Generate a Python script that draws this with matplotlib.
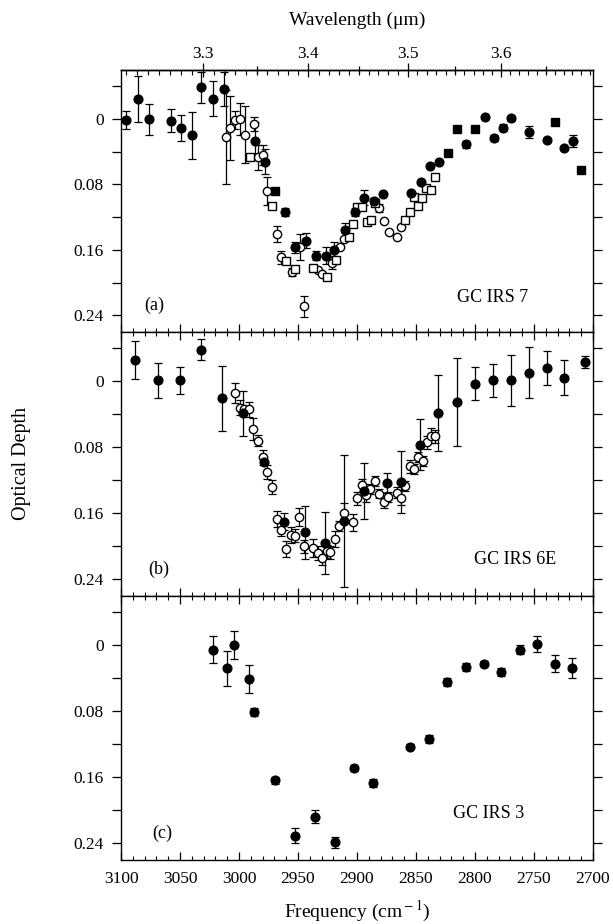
import matplotlib
matplotlib.use("Agg")
import matplotlib.pyplot as plt
import numpy as np
from matplotlib.ticker import MultipleLocator, FixedLocator, FuncFormatter

plt.rcParams["font.family"] = ["Liberation Serif", "DejaVu Serif"]
plt.rcParams["mathtext.fontset"] = "stix"

# ---- panel (a) GC IRS 7 ----
a_fill_freq = [3096, 3086, 3076.5, 3058, 3049, 3040, 3032, 3022, 3013, 2986.4, 2978,
               2961, 2952.7, 2943.3, 2934.6, 2926.4, 2919.3, 2910.3, 2902.1, 2894,
               2885.8, 2877.8, 2854.1, 2846, 2838.4, 2830.4, 2807.3, 2791.8, 2784.2,
               2776.6, 2769.2, 2754.2, 2739.3, 2724.6, 2717]
a_fill_tau = [0.001, -0.025, 0.000, 0.002, 0.011, 0.020, -0.039, -0.025, -0.037, 0.027, 0.052,
              0.114, 0.157, 0.149, 0.167, 0.167, 0.160, 0.136, 0.114, 0.096,
              0.100, 0.092, 0.090, 0.077, 0.057, 0.053, 0.031, -0.002, 0.023,
              0.0105, -0.001, 0.016, 0.026, 0.035, 0.027]
a_fill_err = [0.011, 0.028, 0.019, 0.014, 0.016, 0.029, 0.019, 0.021, 0.021, 0.023, 0.015,
              0.005, 0.007, 0.009, 0.006, 0.010, 0.009, 0.009, 0.005, 0.009,
              0.004, 0, 0, 0, 0, 0, 0.004, 0, 0.004,
              0.004, 0.003, 0.007, 0, 0, 0.007]
a_fsq_freq = [2969.5, 2822.8, 2814.9, 2799.7, 2731.9, 2709.9]
a_fsq_tau = [0.088, 0.041, 0.0126, 0.0126, 0.003, 0.062]
a_open_freq = [3011.1, 3007.7, 3003.1, 2999.5, 2995.3, 2987.3, 2983.8, 2979.5, 2976.2,
               2968, 2964, 2955.5, 2948.4, 2944.7, 2932.9, 2929.5, 2921.6, 2914.2,
               2911.2, 2881.2, 2877.3, 2873.3, 2866, 2862.3]
a_open_tau = [0.022, 0.0105, 0.001, 0.000, 0.019, 0.006, 0.047, 0.044, 0.088,
              0.141, 0.169, 0.187, 0.157, 0.229, 0.185, 0.189, 0.176, 0.157,
              0.147, 0.109, 0.125, 0.138, 0.144, 0.132]
a_open_err = [0.058, 0.039, 0.011, 0.020, 0.035, 0.009, 0.015, 0.012, 0.017,
              0.010, 0.008, 0.005, 0.016, 0.013, 0, 0, 0.008, 0,
              0, 0.005, 0, 0, 0, 0]
a_osq_freq = [2990.4, 2971.8, 2960, 2952.4, 2937.4, 2925.8, 2917.9, 2906.6, 2903.2,
              2899.6, 2895.4, 2891.9, 2888.3, 2884.9, 2859, 2855.3, 2851.9, 2847.9,
              2844.6, 2841.2, 2837.5, 2833.5]
a_osq_tau = [0.047, 0.106, 0.174, 0.184, 0.182, 0.193, 0.172, 0.144, 0.129,
             0.108, 0.107, 0.126, 0.124, 0.103, 0.124, 0.114, 0.095, 0.106,
             0.097, 0.084, 0.087, 0.071]

# ---- panel (b) GC IRS 6E ----
b_fill_freq = [3088, 3068.7, 3050.3, 3032.5, 3014.2, 2996.7, 2978.9, 2961.8, 2944.5,
               2927.3, 2911, 2894.4, 2874.2, 2862.4, 2846.5, 2831, 2815.4, 2799.8,
               2784.5, 2769.6, 2754.3, 2739.3, 2724.6, 2706.5]
b_fill_tau = [-0.026, -0.001, -0.001, -0.038, 0.021, 0.039, 0.098, 0.170, 0.183,
              0.196, 0.169, 0.133, 0.123, 0.122, 0.077, 0.039, 0.025, 0.003,
              -0.001, -0.001, -0.010, -0.016, -0.004, -0.023]
b_fill_err = [0.023, 0.021, 0.016, 0.013, 0.039, 0.027, 0, 0.010, 0.032,
              0.038, 0.080, 0.034, 0.012, 0.038, 0.031, 0.046, 0.053, 0.020,
              0.020, 0.031, 0.031, 0.021, 0.021, 0.007]
b_open_freq = [3003.8, 2999.5, 2995.9, 2991.9, 2988, 2984, 2980, 2976.1, 2971.9,
               2968.2, 2964.3, 2960.3, 2956.3, 2952.7, 2949, 2945, 2937.7, 2933.2,
               2929.8, 2925.6, 2922.5, 2918.6, 2915.2, 2911.1, 2903.3, 2899.9, 2895.5,
               2892, 2888.7, 2885, 2881, 2877, 2873.4, 2866, 2862.4, 2859.2,
               2855, 2851.3, 2848.2, 2844.5, 2841.1, 2837.2, 2833.5]
b_open_tau = [0.014, 0.032, 0.034, 0.034, 0.058, 0.072, 0.092, 0.110, 0.128,
              0.167, 0.180, 0.203, 0.186, 0.187, 0.164, 0.200, 0.202, 0.208,
              0.214, 0.206, 0.207, 0.191, 0.175, 0.160, 0.171, 0.142, 0.126,
              0.138, 0.130, 0.121, 0.136, 0.146, 0.140, 0.135, 0.141, 0.127,
              0.103, 0.106, 0.092, 0.097, 0.074, 0.066, 0.067]
b_open_err = [0.012, 0.009, 0, 0.009, 0.013, 0.007, 0.009, 0.008, 0.008,
              0.010, 0.008, 0.010, 0.010, 0.008, 0.011, 0.008, 0.011, 0.008,
              0.008, 0.008, 0.008, 0.010, 0.006, 0.012, 0.010, 0.008, 0.008,
              0.008, 0.006, 0.006, 0.006, 0.007, 0.006, 0.007, 0.009, 0.006,
              0.008, 0.006, 0.006, 0.006, 0.008, 0.009, 0.008]

# ---- panel (c) GC IRS 3 ----
c_fill_freq = [3022.4, 3010, 3004.6, 2991.7, 2987.1, 2969.7, 2952.4, 2935.5, 2918.6,
               2902.2, 2886.4, 2854.9, 2839, 2823.6, 2807.7, 2792.5, 2777.6, 2762,
               2747.1, 2732.4, 2717.5]
c_fill_tau = [0.005, 0.028, 0.000, 0.041, 0.081, 0.164, 0.231, 0.208, 0.239,
              0.149, 0.167, 0.123, 0.114, 0.044, 0.026, 0.022, 0.032, 0.005,
              -0.002, 0.022, 0.027]
c_fill_err = [0.0165, 0.021, 0.017, 0.017, 0.005, 0.004, 0.009, 0.008, 0.0065,
              0.004, 0.005, 0.003, 0.005, 0.005, 0.005, 0.003, 0.005, 0.005,
              0.0095, 0.010, 0.012]

panel_names = ["GC IRS 7", "GC IRS 6E", "GC IRS 3"]
panel_tags = ["(a)", "(b)", "(c)"]
wl_major = [3.3, 3.4, 3.5, 3.6]
wl_mid = [3.35, 3.45, 3.55, 3.65]
wl_minor = np.round(np.arange(3.23, 3.71, 0.01), 2)

EB = dict(fmt="none", ecolor="black", elinewidth=0.9, capsize=2.8, capthick=0.9, zorder=2)


def errbars(ax, f, t, e):
    f, t, e = np.asarray(f), np.asarray(t), np.asarray(e)
    m = e > 0
    ax.errorbar(f[m], t[m], yerr=e[m], **EB)


def filled(ax, f, t, e=None):
    if e is not None:
        errbars(ax, f, t, e)
    ax.plot(f, t, "o", ms=6.3, color="black", zorder=4)


def opened(ax, f, t, e=None, marker="o", ms=6.0):
    if e is not None:
        errbars(ax, f, t, e)
    ax.plot(f, t, marker, ms=ms, mfc="white", mec="black", mew=1.0, zorder=3)


def tau_fmt(v, _):
    return "0" if abs(v) < 1e-9 else f"{v:.2f}"


fig = plt.figure(figsize=(6.13, 9.24), dpi=100)
left, width = 0.1974, 0.770
edges = [0.9242, 0.6412, 0.355, 0.0698]
axes = []
for i in range(3):
    ax = fig.add_axes([left, edges[i + 1], width, edges[i] - edges[i + 1]])
    axes.append(ax)

filled(axes[0], a_fill_freq, a_fill_tau, a_fill_err)
axes[0].plot(a_fsq_freq, a_fsq_tau, "s", ms=5.3, color="black", zorder=4)
opened(axes[0], a_open_freq, a_open_tau, a_open_err)
opened(axes[0], a_osq_freq, a_osq_tau, None, marker="s", ms=5.3)

filled(axes[1], b_fill_freq, b_fill_tau, b_fill_err)
opened(axes[1], b_open_freq, b_open_tau, b_open_err)

filled(axes[2], c_fill_freq, c_fill_tau, c_fill_err)

for i, ax in enumerate(axes):
    ax.set_xlim(3100, 2700)
    ax.set_ylim(0.26, -0.06)
    for s in ax.spines.values():
        s.set_linewidth(1.0)
    ax.xaxis.set_major_locator(MultipleLocator(50))
    ax.xaxis.set_minor_locator(MultipleLocator(10))
    ax.yaxis.set_major_locator(MultipleLocator(0.08))
    ax.yaxis.set_minor_locator(MultipleLocator(0.04))
    ax.yaxis.set_major_formatter(FuncFormatter(tau_fmt))
    ax.tick_params(axis="x", which="both", direction="in", top=(i > 0), bottom=True,
                   labelbottom=(i == 2), labelsize=12.5, pad=8)
    ax.tick_params(axis="x", which="major", length=6, width=0.9)
    ax.tick_params(axis="x", which="minor", length=3, width=0.8)
    ax.tick_params(axis="y", which="both", direction="out", left=True, right=True,
                   length=6.5, width=0.9, labelsize=12.5, pad=6)
    ax.text(0.05 + 0.008 * i, 0.10, panel_tags[i], transform=ax.transAxes, fontsize=13,
            ha="left", va="center")

axes[0].text(0.712, 0.131, panel_names[0], transform=axes[0].transAxes, fontsize=13, va="center")
axes[1].text(0.747, 0.139, panel_names[1], transform=axes[1].transAxes, fontsize=13, va="center")
axes[2].text(0.704, 0.173, panel_names[2], transform=axes[2].transAxes, fontsize=13, va="center")

conv = (lambda x: 1e4 / np.asarray(x, dtype=float), lambda x: 1e4 / np.asarray(x, dtype=float))
top = axes[0].secondary_xaxis("top", functions=conv)
top.xaxis.set_major_locator(FixedLocator(wl_major))
top.xaxis.set_minor_locator(FixedLocator(wl_minor))
top.xaxis.set_major_formatter(FuncFormatter(lambda v, _: f"{v:.1f}"))
top.tick_params(which="major", direction="inout", length=10, width=0.9, labelsize=12.5, pad=1)
top.tick_params(which="minor", direction="in", length=3.5, width=0.8)
top.spines["top"].set_linewidth(1.0)

mid = axes[0].secondary_xaxis("top", functions=conv)
mid.xaxis.set_major_locator(FixedLocator(wl_mid))
mid.xaxis.set_minor_locator(FixedLocator([]))
mid.tick_params(which="major", direction="inout", length=6, width=0.9, labeltop=False)

xc = left + width / 2
fig.text(xc, 1 - 20 / 924, "Wavelength (\u03bcm)", fontsize=14, ha="center", va="center")
fig.text(xc, 1 - 911 / 924, r"Frequency (cm$^{\rm -1}$)", fontsize=14, ha="center", va="center")
fig.text(22 / 613, 1 - 463 / 924, "Optical Depth", rotation=90, fontsize=14.5,
         ha="center", va="center")

fig.savefig("out.png", dpi=100)
